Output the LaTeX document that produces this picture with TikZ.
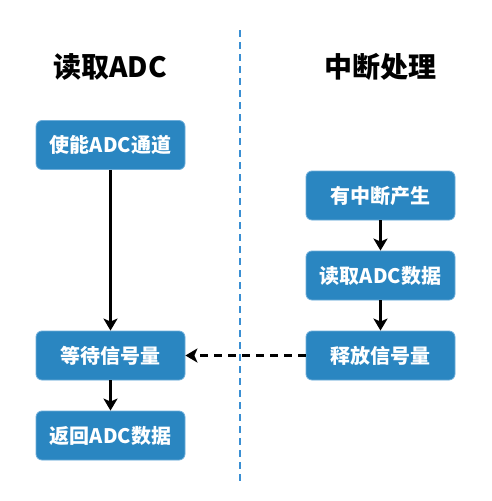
\documentclass[tikz,border=0pt]{standalone}
\usepackage{fontspec}
\setmainfont{Noto Sans CJK SC}
\usetikzlibrary{arrows.meta}
\definecolor{boxblue}{HTML}{2A86C1}
\definecolor{boxedge}{HTML}{6FAEDA}
\definecolor{sepblue}{HTML}{3A8FD3}
\tikzset{
  stepbox/.style={draw=boxedge, line width=0.8pt, fill=boxblue, rounded corners=6pt,
    minimum width=149pt, minimum height=49pt, inner sep=0pt,
    text=white, font=\fontsize{20}{22}\selectfont\bfseries},
  titletext/.style={font=\fontsize{28}{30}\selectfont\bfseries, text=black, inner sep=0pt},
  flow/.style={draw=black, line width=2.4pt, -{Stealth[length=12pt,width=14pt,inset=3pt]}},
  signal/.style={flow, dash pattern=on 8pt off 6pt},
  separator/.style={draw=sepblue, line width=1.8pt, dash pattern=on 6.5pt off 5.5pt}
}
\begin{document}
\begin{tikzpicture}[x=1pt,y=-1pt]
\useasboundingbox (0,0) rectangle (491,501);
\coordinate (septop) at (240,30);
\coordinate (sepbot) at (240,481);
\draw[separator] (septop) -- (sepbot);
\node[titletext] (t1) at (110,67) {读取ADC};
\node[titletext] (t2) at (380,67) {中断处理};
\node[stepbox] (a1) at (110.5,145) {使能ADC通道};
\node[stepbox] (a2) at (110.5,355.5) {等待信号量};
\node[stepbox] (a3) at (110.5,435.5) {返回ADC数据};
\node[stepbox] (b1) at (380.5,195.5) {有中断产生};
\node[stepbox] (b2) at (380.5,275.5) {读取ADC数据};
\node[stepbox] (b3) at (380.5,355.5) {释放信号量};
\draw[flow] (a1) -- (a2);
\draw[flow] (a2) -- (a3);
\draw[flow] (b1) -- (b2);
\draw[flow] (b2) -- (b3);
\draw[signal] (b3) -- (a2);
\end{tikzpicture}
\end{document}
